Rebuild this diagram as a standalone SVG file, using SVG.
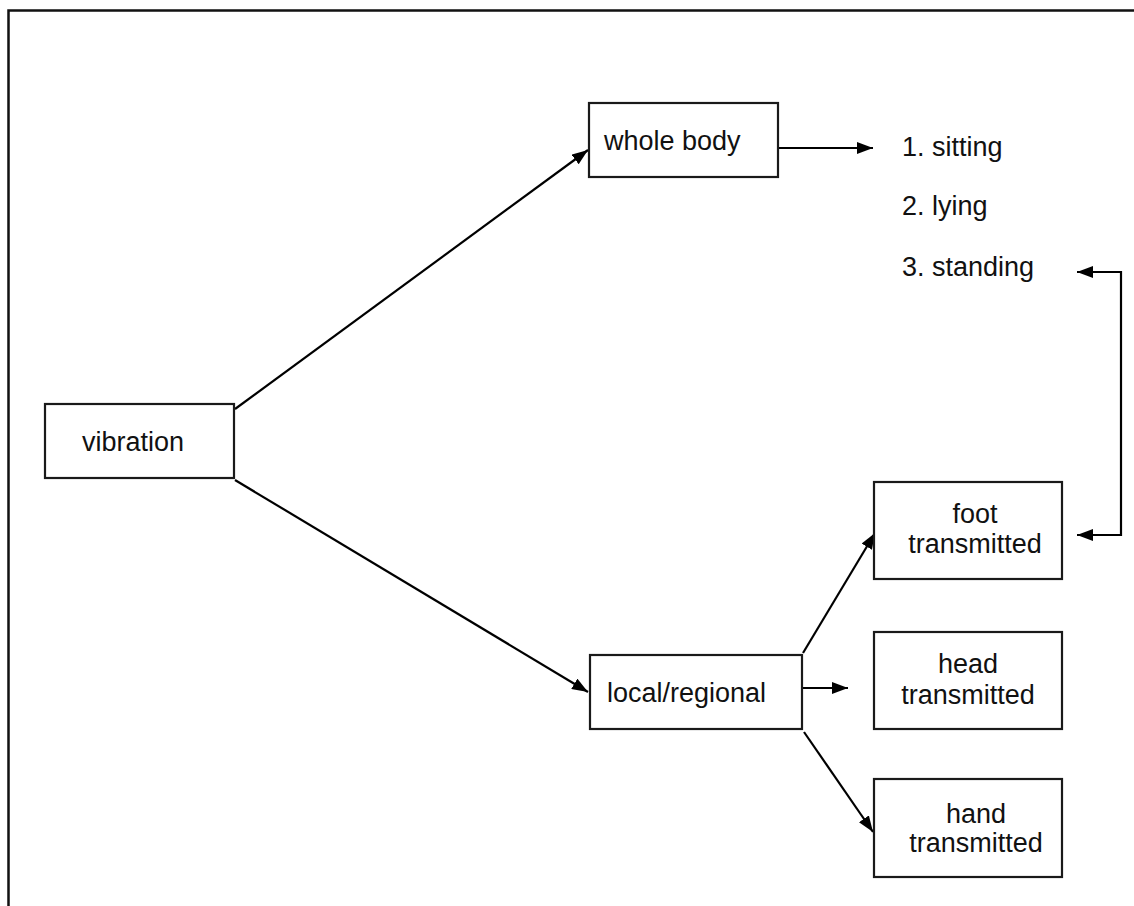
<svg xmlns="http://www.w3.org/2000/svg" width="1134" height="906" viewBox="0 0 1134 906">
<defs>
<marker id="ah" viewBox="0 0 16 12" refX="16" refY="6" markerWidth="16" markerHeight="12" markerUnits="userSpaceOnUse" orient="auto-start-reverse">
<path d="M0,0 L16,6 L0,12 Z" fill="#000"/>
</marker>
<style>
.box{fill:#fff;stroke:#1a1a1a;stroke-width:2.2}
.t{font-family:"Liberation Sans",Arial,sans-serif;font-size:27px;fill:#111}
.c{stroke:#000;stroke-width:2.2;fill:none}
</style>
</defs>
<rect width="1134" height="906" fill="#fff"/>
<path d="M8.5,906 V10.5 H1134" fill="none" stroke="#111" stroke-width="2.5"/>
<g id="connectors">
<line class="c" x1="235" y1="409" x2="588" y2="150" marker-end="url(#ah)"/>
<line class="c" x1="235" y1="480" x2="588" y2="692" marker-end="url(#ah)"/>
<line class="c" x1="778" y1="148" x2="873" y2="148" marker-end="url(#ah)"/>
<line class="c" x1="802" y1="688" x2="848" y2="688" marker-end="url(#ah)"/>
<line class="c" x1="803" y1="653" x2="875" y2="533" marker-end="url(#ah)"/>
<line class="c" x1="804" y1="732" x2="873" y2="832" marker-end="url(#ah)"/>
<path class="c" d="M1077,272 H1121 V535 H1077" marker-start="url(#ah)" marker-end="url(#ah)"/>
</g>
<g id="vibration">
<rect class="box" x="45" y="404" width="189" height="74"/>
<text class="t" x="82" y="451">vibration</text>
</g>
<g id="whole-body">
<rect class="box" x="589" y="103" width="189" height="74"/>
<text class="t" x="604" y="150">whole body</text>
</g>
<g id="postures">
<text class="t" x="902" y="156">1. sitting</text>
<text class="t" x="902" y="215">2. lying</text>
<text class="t" x="902" y="276">3. standing</text>
</g>
<g id="local-regional">
<rect class="box" x="590" y="655" width="212" height="74"/>
<text class="t" x="607" y="702">local/regional</text>
</g>
<g id="foot">
<rect class="box" x="874" y="482" width="188" height="97"/>
<text class="t" x="975" y="523" text-anchor="middle">foot</text>
<text class="t" x="975" y="553" text-anchor="middle">transmitted</text>
</g>
<g id="head">
<rect class="box" x="874" y="632" width="188" height="97"/>
<text class="t" x="968" y="673" text-anchor="middle">head</text>
<text class="t" x="968" y="704" text-anchor="middle">transmitted</text>
</g>
<g id="hand">
<rect class="box" x="874" y="779" width="188" height="98"/>
<text class="t" x="976" y="823" text-anchor="middle">hand</text>
<text class="t" x="976" y="852" text-anchor="middle">transmitted</text>
</g>
</svg>
